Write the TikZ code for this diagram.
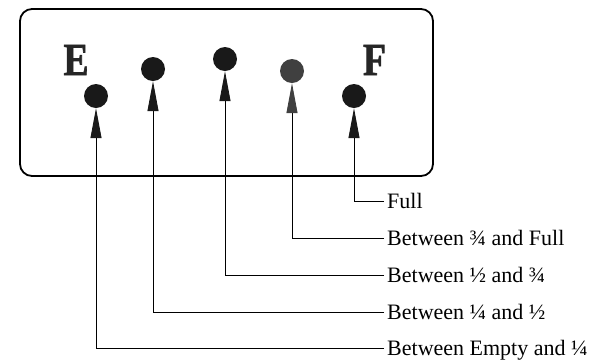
\documentclass[tikz,border=0pt]{standalone}
\usepackage{fontspec}
\setmainfont{Liberation Serif}
\newfontfamily\heavyface[BoldFeatures={FakeBold=1.6}]{Liberation Serif}
\usetikzlibrary{arrows.meta}
\begin{document}
\begin{tikzpicture}[x=1pt,y=-1pt,
  lamp/.style={circle, fill=#1, draw=none, minimum size=24pt, inner sep=0pt},
  lamp/.default=black!90,
  lbl/.style={anchor=base west, inner xsep=3pt, inner ysep=0pt, font=\fontsize{22}{26}\selectfont},
  lead/.style={line width=0.9pt, -{Triangle[length=30pt,width=11pt,color=#1]}},
  lead/.default=black!90,
  letter/.style={font=\fontsize{46}{50}\selectfont\heavyface\bfseries, text=black!85, inner sep=0pt}]
\useasboundingbox (0,0) rectangle (600,360);
\draw[line width=1.8pt, rounded corners=12pt] (20,9) rectangle (433,176);
\node[letter] (E) at (76,60) {\scalebox{0.82}[1]{E}};
\node[letter] (F) at (374.5,60) {\scalebox{0.82}[1]{F}};
\node[lamp] (d1) at (96,96) {};
\node[lamp] (d2) at (153,69) {};
\node[lamp] (d3) at (225,59) {};
\node[lamp=black!75] (d4) at (292,71) {};
\node[lamp] (d5) at (354,96) {};
\node[lbl] (l5) at (384,208) {Full};
\node[lbl] (l4) at (384,245) {Between ¾ and Full};
\node[lbl] (l3) at (384,282) {Between ½ and ¾};
\node[lbl] (l2) at (384,319) {Between ¼ and ½};
\node[lbl] (l1) at (384,355) {Between Empty and ¼};
\draw[lead] ([yshift=7pt]l1.base west) -| (d1.south);
\draw[lead] ([yshift=7pt]l2.base west) -| (d2.south);
\draw[lead] ([yshift=7pt]l3.base west) -| (d3.south);
\draw[lead=black!75] ([yshift=7pt]l4.base west) -| (d4.south);
\draw[lead] ([yshift=7pt]l5.base west) -| (d5.south);
\end{tikzpicture}
\end{document}
